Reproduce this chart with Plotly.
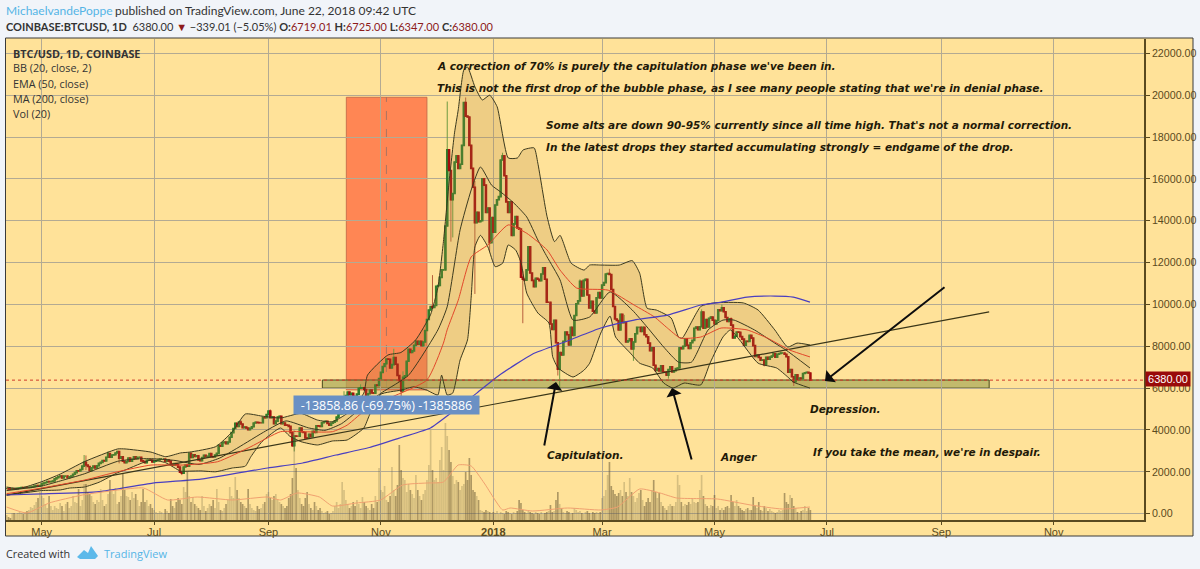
import calendar
import pandas as pd
import plotly.graph_objects as go

# ---------- closes, one list per month (USD) ----------
c_2017_04 = [1200,1183,1170,1185,1175,1195,1210,1222,1250,1245,1250,1245,1250,1265,1285,1315,1340,1320,1345]
c_2017_05 = [1420,1460,1490,1530,1520,1535,1560,1660,1710,1760,1800,1700,1790,1790,1720,1760,1800,1880,1960,2050,2040,2110,2270,2450,2320,2250,2050,2190,2270,2180,2290]
c_2017_06 = [2400,2450,2540,2520,2690,2870,2700,2800,2810,2900,2960,2650,2720,2500,2430,2490,2650,2510,2600,2720,2630,2690,2690,2520,2490,2430,2550,2560,2550,2470]
c_2017_07 = [2500,2540,2560,2610,2610,2610,2500,2560,2510,2370,2310,2390,2340,2220,1980,1930,2230,2320,2260,2880,2680,2810,2730,2760,2560,2530,2680,2790,2720,2740,2870]
c_2017_08 = [2720,2710,2800,2880,3260,3220,3390,3420,3340,3420,3650,3870,4070,4320,4160,4380,4280,4110,4140,4090,4010,4080,4150,4330,4370,4350,4340,4340,4590,4580,4740]
c_2017_09 = [4900,4580,4620,4300,4420,4620,4650,4300,4330,4230,4220,4170,3870,3240,3710,3700,3700,4090,3910,3880,3620,3610,3790,3680,3930,3880,4200,4190,4170,4340]
c_2017_10 = [4390,4410,4310,4220,4320,4370,4430,4610,4770,4780,4820,5440,5640,5810,5680,5750,5590,5570,5710,5990,6010,6010,5930,5520,5730,5900,5770,5750,6140,6130,6450]
c_2017_11 = [6750,7030,7160,7390,7380,6960,7120,7460,7140,6600,6350,5860,6520,6590,7280,7850,7700,7780,8040,8240,8100,8230,8020,8200,8750,9280,9730,9900,9850,9950]
c_2017_12 = [10860,10900,11290,11650,11650,13750,17390,16400,15000,15300,16800,17100,16500,16700,17600,19650,19000,18960,17600,16500,15600,13900,14400,13950,14000,16000,15700,14400,14600,12950,14150]
c_2018_01 = [13450,14750,15000,15150,16900,17100,16150,14900,14400,14900,13300,13850,14200,13650,13600,11300,11200,11160,11650,12750,11500,11150,10850,11250,11200,11130,11450,11750,11200,10100,10100]
c_2018_02 = [9060,8800,9240,8170,6900,7700,7580,8240,8680,8550,8060,8900,8520,9470,10030,10170,11100,10400,11150,11200,10450,9830,10150,9680,9590,10320,10570,10310]
c_2018_03 = [10920,11040,11450,11480,11430,10710,9900,9300,9230,8780,9530,9130,9150,8200,8260,8350,7870,8200,8600,8900,8900,8710,8900,8550,8450,8150,7790,7930,7090,6840,6930]
c_2018_04 = [6820,7060,6780,6780,6610,6890,7020,6770,6830,6930,6960,7920,7880,8000,8350,8050,7890,8170,8280,8860,8920,8790,8930,9640,8860,9270,8920,9340,9400,9240]
c_2018_05 = [9070,9230,9740,9700,9840,9650,9370,9180,9310,9010,8400,8480,8680,8670,8460,8340,8050,8240,8230,8520,8390,8030,7510,7580,7460,7330,7340,7120,7470,7380,7480]
c_2018_06 = [7530,7640,7480,7620,7650,7680,7680,7620,7500,6760,6880,6540,6300,6640,6410,6480,6450,6700,6730,6750,6719,6380]
close_months = [c_2017_04,c_2017_05,c_2017_06,c_2017_07,c_2017_08,c_2017_09,c_2017_10,c_2017_11,c_2017_12,c_2018_01,c_2018_02,c_2018_03,c_2018_04,c_2018_05,c_2018_06]

# ---------- notable wicks ----------
high_dates = ["2017-05-24","2017-05-25","2017-06-06","2017-06-11","2017-07-20","2017-08-17","2017-09-02","2017-10-12","2017-10-21","2017-11-08","2017-11-13","2017-11-29","2017-12-07","2017-12-08","2017-12-17","2017-12-22","2018-01-06","2018-01-17","2018-02-17","2018-03-05","2018-03-13","2018-04-24","2018-05-05","2018-05-10","2018-06-06","2018-06-22"]
high_vals  = [2800,2780,2980,3000,2900,4480,4980,5850,6180,7880,6800,11400,19697,17400,19891,15900,17250,11600,11200,11700,9500,9760,10000,9380,7750,6725]
low_dates = ["2017-05-25","2017-06-12","2017-07-16","2017-09-14","2017-09-15","2017-11-12","2017-12-09","2017-12-10","2017-12-22","2017-12-30","2018-01-17","2018-02-05","2018-02-06","2018-03-18","2018-04-06","2018-05-28","2018-06-13","2018-06-22"]
low_vals  = [2080,2400,1840,3200,2970,5570,13000,13200,10500,12500,9100,6600,5920,7300,6450,7040,6100,6347]

# ---------- daily volume, one list per month ----------
v_2017_04 = [5,3,2,7,7,6,7,8,7,6,8,9,10,13,12,15,18,22,28]
v_2017_05 = [24,22,16,12,24,14,10,14,12,11,17,14,9,16,18,12,14,24,18,17,31,14,20,36,36,28,26,24,18,16,20]
v_2017_06 = [18,31,20,14,16,26,40,30,26,32,16,18,24,46,30,24,23,20,28,22,26,20,14,18,31,18,20,14,16,12]
v_2017_07 = [10,8,7,9,8,6,11,9,7,21,14,12,18,22,20,16,33,28,49,24,18,23,16,14,12,10,24,14,9,12,16]
v_2017_08 = [14,20,12,31,18,10,9,12,16,20,33,24,22,43,30,22,18,16,14,12,31,16,12,10,9,14,11,12,16,18,26]
v_2017_09 = [28,22,20,24,26,20,18,16,14,12,14,22,26,42,90,52,30,22,16,14,22,28,16,12,10,18,14,10,12,9]
v_2017_10 = [7,8,9,6,7,9,14,18,12,16,38,30,20,16,12,14,18,14,20,16,12,23,18,14,12,10,16,12,24,18,52]
v_2017_11 = [30,28,34,20,18,24,53,30,24,35,75,50,42,40,28,36,30,26,22,45,30,24,20,26,30,40,55,90,50,40]
v_2017_12 = [42,38,60,73,50,97,84,70,58,44,36,40,38,30,34,36,48,40,62,45,30,28,24,20,10,9,8,10,9,8,7]
v_2018_01 = [8,7,9,6,8,7,6,9,8,7,6,8,7,9,20,17,10,8,7,9,8,7,6,8,7,6,8,6,7,8,9]
v_2018_02 = [15,8,9,20,28,16,12,8,7,9,8,6,7,12,10,8,9,7,6,8,9,7,6,8,7,8,7,8]
v_2018_03 = [22,24,30,45,58,34,30,26,24,27,30,24,38,28,24,42,28,24,18,22,27,30,20,14,18,22,18,30,40,28,22]
v_2018_04 = [27,18,14,12,10,14,16,14,14,18,45,35,18,14,16,15,18,16,22,18,17,18,30,45,24,16,14,12,15,14]
v_2018_05 = [25,12,14,10,12,10,13,14,12,25,18,14,20,14,12,10,9,11,12,10,10,23,14,12,18,10,9,14,12,9,11]
v_2018_06 = [9,8,7,8,10,9,10,27,18,16,25,22,14,12,8,7,9,10,14,9,12,10]
volume_months = [v_2017_04,v_2017_05,v_2017_06,v_2017_07,v_2017_08,v_2017_09,v_2017_10,v_2017_11,v_2017_12,v_2018_01,v_2018_02,v_2018_03,v_2018_04,v_2018_05,v_2018_06]

# ---------- indicators (day = days after 2017-05-01) ----------
bb_up_day = [-19,-12,0,10,23,41,45,59,67,75,80,94,103,110,119,129,140,149,157,165,174,176,187,194,202,210,214,217,220,223,225,228,230,234,238,242,246,252,257,260,266,268,273,277,280,286,293,296,302,312,319,323,327,332,340,344,346,356,363,379,387,396,403,408,415]
bb_up_val = [1270,1200,1525,1890,2480,3090,3090,2940,2720,2900,2940,3200,3915,4760,4660,4570,4790,4470,4390,4790,5760,6620,7580,7700,8300,9500,10800,13000,15800,18200,19300,21200,21350,20400,19770,20000,19450,17000,17000,17380,17480,16750,14190,13000,13300,11970,11640,11880,11880,11880,12090,11490,9820,9730,9350,8440,8390,9900,10070,10070,9730,8780,7960,8150,8060]
bb_lo_day = [-19,-12,0,10,15,23,31,41,45,59,67,75,80,86,94,103,110,113,119,129,134,140,149,157,165,174,177,183,194,201,208,214,216,219,222,226,230,232,234,237,241,245,249,252,256,259,262,268,274,276,279,287,293,296,302,307,310,318,323,330,336,341,347,356,361,368,372,377,387,397,403,406,415]
bb_lo_val = [890,960,1100,1130,1220,1270,1500,1955,2080,2560,2430,2030,2030,2040,2000,2180,2270,2720,3440,4090,3700,3440,3280,3470,3520,4090,4700,5700,5900,6060,5900,5670,6620,5670,5760,7340,8300,10350,12750,13300,12750,11800,11970,12840,12600,11970,10540,9590,9110,7500,6960,6530,6860,7190,8630,9440,8440,7670,7190,6960,6240,6000,6240,6150,7190,8440,8780,8300,7190,6960,6530,6290,6000]
bb_mid_day = [-19,0,10,23,41,52,61,72,85,96,106,121,132,144,153,162,174,184,198,214,219,226,232,237,243,248,255,262,268,273,280,287,296,307,319,327,336,344,351,360,368,374,385,396,402,415]
bb_mid_val = [1100,1320,1560,1900,2500,2620,2620,2540,2350,2650,3150,3950,4430,4100,3980,4300,5150,5800,6600,8780,9880,13560,15470,16570,15700,15370,14850,14180,13080,12270,11170,9250,9400,10600,9730,8920,7960,7240,7240,8780,9250,9250,8780,8150,7820,6960]
ema_day = [-19,0,23,41,59,76,95,113,129,140,157,165,177,208,217,219,225,232,241,252,262,273,280,289,306,320,331,338,345,356,367,381,392,404,415]
ema_val = [950,1220,1600,2000,2320,2320,2480,3200,3915,3915,3915,4230,5100,6380,8150,8780,10200,12270,12840,13800,13400,12600,11640,10780,10680,9970,9400,8870,8390,8440,8870,8780,8390,7820,7490]
ma200_day = [-19,0,31,60,86,122,141,159,177,195,210,221,235,247,265,284,302,320,338,356,367,381,396,406,415]
ma200_val = [890,940,1050,1460,1650,2180,2420,2800,3160,3660,4090,4800,5760,6600,7620,8250,8870,9250,9490,9970,10110,10350,10400,10350,10110]
volma_day = [-19,-8,4,22,41,55,68,84,103,122,129,138,150,157,170,183,195,208,217,225,232,239,249,253,265,284,302,311,323,334,343,365,383,400,415]
volma_val = [13,7,17,25,30,32,20,23,20,23,20,27,23,14,17,20,35,37,38,55,54,37,10,12,9,12,10,13,31,27,22,21,15,11,13]

# ---------- levels ----------
last_price = 6380
trend_dates = ["2017-04-12","2018-09-27"]
trend_vals = [885,9640]
zone_dates = ["2017-09-30 06:00","2018-09-27"]
zone_vals = [5999,6386]
box_dates = ["2017-10-13 06:00","2017-11-26"]
box_vals = [5910,19900]
mark_date = "2017-11-04"

# ---------- axes labels ----------
x_tick_dates = ["2017-05-01","2017-07-01","2017-09-01","2017-11-01","2018-01-01","2018-03-01","2018-05-01","2018-07-01","2018-09-01","2018-11-01"]
x_tick_text = ["May","Jul","Sep","Nov","<b>2018</b>","Mar","May","Jul","Sep","Nov"]

# ---------- assemble ----------
start_months = [(2017,m) for m in range(4,13)] + [(2018,m) for m in range(1,7)]
for (yy,mm),cl,vo in zip(start_months,close_months,volume_months):
    want = calendar.monthrange(yy,mm)[1]
    if (yy,mm)==(2017,4): want = 19
    if (yy,mm)==(2018,6): want = 22
    assert len(cl)==want, f"close {yy}-{mm}: {len(cl)} vs {want}"
    assert len(vo)==want, f"vol {yy}-{mm}: {len(vo)} vs {want}"

closes = [v for m in close_months for v in m]
volumes = [v for m in volume_months for v in m]
dates = pd.date_range("2017-04-12", periods=len(closes), freq="D")
opens = [closes[0]] + closes[:-1]
hi_map = {pd.Timestamp(d):v for d,v in zip(high_dates,high_vals)}
lo_map = {pd.Timestamp(d):v for d,v in zip(low_dates,low_vals)}
body_hi = [max(o,c) for o,c in zip(opens,closes)]
body_lo = [min(o,c) for o,c in zip(opens,closes)]
highs = [max(hi_map.get(d,b),b) for d,b in zip(dates,body_hi)]
lows = [min(lo_map.get(d,b),b) for d,b in zip(dates,body_lo)]

def from_days(days):
    # the day readings were taken at 1.85 px per day; the axis runs at 1.842
    return [pd.Timestamp("2017-05-01")+pd.Timedelta(days=float(d)*1.0043) for d in days]

# page pixel -> paper fractions (plot area is 6..1144 x 39..520)
PX = lambda x:(x-6)/1138
PY = lambda y:1-(y-39)/481

SMOOTH = dict(shape="spline",smoothing=0.5)
fig = go.Figure()
# Bollinger band
fig.add_trace(go.Scatter(x=from_days(bb_up_day),y=bb_up_val,mode="lines",line=dict(color="#3c3a1e",width=1,**SMOOTH)))
fig.add_trace(go.Scatter(x=from_days(bb_lo_day),y=bb_lo_val,mode="lines",line=dict(color="#3c3a1e",width=1,**SMOOTH),fill="tonexty",fillcolor="rgba(176,130,60,0.22)"))
fig.add_trace(go.Scatter(x=from_days(bb_mid_day),y=bb_mid_val,mode="lines",line=dict(color="#3c3a1e",width=1,**SMOOTH)))
fig.add_trace(go.Scatter(x=trend_dates,y=trend_vals,mode="lines",line=dict(color="#3a3618",width=1.2)))
fig.add_trace(go.Scatter(x=from_days(ema_day),y=ema_val,mode="lines",line=dict(color="#e2472a",width=1,**SMOOTH)))
fig.add_trace(go.Scatter(x=from_days(ma200_day),y=ma200_val,mode="lines",line=dict(color="#4a3fc0",width=1.2,**SMOOTH)))
# wicks (muted) then bodies
fig.add_trace(go.Candlestick(x=dates,open=opens,high=highs,low=lows,close=closes,whiskerwidth=0,
    increasing=dict(line=dict(color="#6f9a42",width=1),fillcolor="#6f9a42"),
    decreasing=dict(line=dict(color="#b8603c",width=1),fillcolor="#b8603c")))
fig.add_trace(go.Candlestick(x=dates,open=opens,high=body_hi,low=body_lo,close=closes,whiskerwidth=0,
    increasing=dict(line=dict(color="#2f7d2b",width=1.6),fillcolor="#2f7d2b"),
    decreasing=dict(line=dict(color="#a30d0d",width=1.6),fillcolor="#a30d0d")))
# volume
vol_colors = ["rgba(120,110,70,0.30)" if c>=o else "rgba(100,85,50,0.52)" for o,c in zip(opens,closes)]
fig.add_trace(go.Bar(x=dates,y=volumes,yaxis="y2",marker=dict(color=vol_colors,line=dict(width=0)),width=86400000*0.9))
fig.add_trace(go.Scatter(x=from_days(volma_day),y=volma_val,yaxis="y2",mode="lines",line=dict(color="#f0a070",width=1,**SMOOTH)))

shapes = [
    dict(type="rect",xref="paper",yref="paper",x0=PX(5.5),x1=PX(1193),y0=PY(536),y1=PY(38),fillcolor="#ffe299",line=dict(color="#3a3a3a",width=1),layer="below"),
    dict(type="rect",x0=box_dates[0],x1=box_dates[1],y0=box_vals[0],y1=box_vals[1],fillcolor="rgba(255,118,72,0.85)",line=dict(color="rgba(190,100,70,0.8)",width=1),layer="below"),
    dict(type="line",x0=mark_date,x1=mark_date,y0=box_vals[0],y1=box_vals[1],line=dict(color="rgba(150,110,100,0.8)",width=1,dash="dash"),layer="below"),
    dict(type="rect",x0=zone_dates[0],x1=zone_dates[1],y0=zone_vals[0],y1=zone_vals[1],fillcolor="rgba(170,170,90,0.72)",line=dict(color="#4a4a1e",width=1),layer="below"),
    dict(type="line",xref="paper",x0=0,x1=1,y0=last_price,y1=last_price,line=dict(color="#cf3a2a",width=1,dash="dot")),
    # TradingView logo
    dict(type="path",xref="paper",yref="paper",fillcolor="#5cb9ea",line=dict(width=0),
         path=f"M {PX(77)},{PY(557)} L {PX(84)},{PY(550)} L {PX(88)},{PY(553)} L {PX(91)},{PY(546)} L {PX(98)},{PY(556)} L {PX(95)},{PY(559)} L {PX(80)},{PY(559)} Z"),
]

GREY="#333333"
def note(text,x,y,size=10.5,color="#1f1a08",anchor="left",family="DejaVu Sans",**kw):
    return dict(text=text,xref="paper",yref="paper",x=PX(x),y=PY(y),xanchor=anchor,yanchor="middle",showarrow=False,
                font=dict(size=size,color=color,family=family),**kw)
def arrow(hx,hy,tx,ty):
    return dict(text="",xref="paper",yref="paper",x=PX(hx),y=PY(hy),ax=tx-hx,ay=ty-hy,showarrow=True,
                arrowhead=1,arrowsize=1.3,arrowwidth=2,arrowcolor="#0d0d0d",standoff=0)
SANS="Open Sans"
HEAD="Lato"
RED="#8e1b1b"
annotations = [
    note("MichaelvandePoppe",4,10,12,"#55b4e6",family=HEAD),
    note("published on TradingView.com, June 22, 2018 09:42 UTC",113,10,12,GREY,family=HEAD),
    note(f"<b>COINBASE:BTCUSD, 1D</b>  6380.00 <span style='color:{RED}'>▼</span> −339.01 (−5.05%) <b>O:</b><span style='color:{RED}'>6719.01</span> <b>H:</b><span style='color:{RED}'>6725.00</span> <b>L:</b><span style='color:{RED}'>6347.00</span> <b>C:</b><span style='color:{RED}'>6380.00</span>",4,26,11,GREY,family=HEAD),
    note("<b>BTC/USD, 1D, COINBASE</b>",11,53,10.8,GREY,family=SANS),
    note("BB (20, close, 2)",11,68,10.8,GREY,family=SANS),
    note("EMA (50, close)",11,83,10.8,GREY,family=SANS),
    note("MA (200, close)",11,98,10.8,GREY,family=SANS),
    note("Vol (20)",11,113,10.8,GREY,family=SANS),
    note("<b><i>A correction of 70% is purely the capitulation phase we've been in.</i></b>",435,66),
    note("<b><i>This is not the first drop of the bubble phase, as I see many people stating that we're in denial phase.</i></b>",435,88),
    note("<b><i>Some alts are down 90-95% currently since all time high. That's not a normal correction.</i></b>",544,125),
    note("<b><i>In the latest drops they started accumulating strongly = endgame of the drop.</i></b>",544,147),
    note("<b><i>Capitulation.</i></b>",545,455),
    note("<b><i>Anger</i></b>",718,457),
    note("<b><i>Depression.</i></b>",808,409),
    note("<b><i>If you take the mean, we're in despair.</i></b>",811,452),
    arrow(556,382,544,447),
    arrow(672,388,692,461),
    arrow(825,381,946,286),
    note("-13858.86 (-69.75%) -1385886",386.5,405,12.5,"#ffffff",anchor="center",family=SANS,bgcolor="#6a90c4",width=185,height=18,borderpad=0),
    note("6380.00",1145,379,11,"#ffffff",family="Liberation Sans",bgcolor="#990a0a",width=44,height=14,borderpad=0),
    note("Created with",4,553,10.8,GREY,family=SANS),
    note("TradingView",102,553,11,"#55b4e6",family=SANS),
]

fig.update_layout(
    width=1200,height=569,autosize=False,showlegend=False,hovermode=False,barmode="overlay",
    margin=dict(l=6,r=56,t=39,b=49,pad=0,autoexpand=False),
    paper_bgcolor="#f1f4f9",plot_bgcolor="rgba(0,0,0,0)",
    shapes=shapes,annotations=annotations,
    xaxis=dict(type="date",range=["2017-04-11 15:00","2018-12-20"],rangeslider=dict(visible=False),
               tickmode="array",tickvals=x_tick_dates,ticktext=x_tick_text,ticks="outside",ticklen=3,tickcolor="#5a4a20",
               ticklabelstandoff=-2,
               tickfont=dict(family="Liberation Sans",size=11,color="#5a4a20"),
               showgrid=True,gridcolor="#b3aa93",gridwidth=1,zeroline=False,
               showline=True,linecolor="#5a4a20",linewidth=1.5),
    yaxis=dict(range=[-306,22686],side="right",tick0=0,dtick=2000,tickformat=".2f",ticks="outside",ticklen=4,tickcolor="#5a4a20",
               tickfont=dict(family="Liberation Sans",size=10.7,color="#5a4a20"),
               showgrid=True,gridcolor="#b3aa93",gridwidth=1,zeroline=False,
               showline=True,linecolor="#5a4a20",linewidth=1.5),
    yaxis2=dict(overlaying="y",range=[0,481],visible=False,showgrid=False,zeroline=False),
)

fig.write_html("out.html",config=dict(displayModeBar=False),post_script="document.body.style.margin='0';document.body.style.overflow='hidden';")
